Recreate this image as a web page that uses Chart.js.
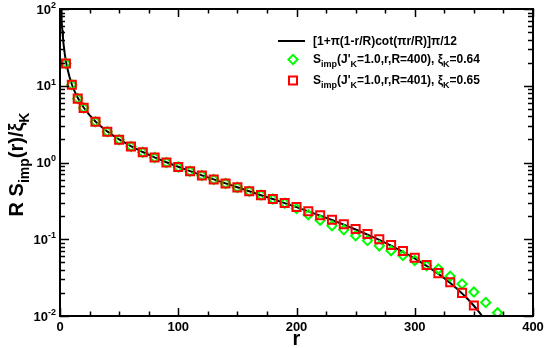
<!DOCTYPE html>
<html>
<head>
<meta charset="utf-8">
<script src="https://cdn.jsdelivr.net/npm/chart.js@4.4.1/dist/chart.umd.min.js"></script>
<style>
  html, body { margin: 0; padding: 0; background: #fff; }
  #wrap { width: 545px; height: 348px; position: relative; }
</style>
</head>
<body>
<div id="wrap"><canvas id="c"></canvas></div>
<script>
/* R S_imp(r)/xi_K versus r, log y axis, curve + two sets of markers */

// curve [1+pi(1-r/R)cot(pi r/R)]pi/12
const curveR = [1, 1.2, 1.5, 2, 2.5, 3, 4, 5, 6, 8, 10, 12, 15, 20, 25, 30, 35, 40, 45, 50,
  60, 70, 80, 90, 100, 110, 120, 130, 140, 150, 160, 170, 180, 190, 200,
  210, 220, 230, 240, 250, 260, 270, 280, 290, 300, 310, 320, 325, 330, 335, 340, 345, 350, 355, 360];
const curveVal = [104.7, 87.3, 69.8, 52.4, 41.9, 34.9, 26.2, 20.9, 17.4, 13.1, 10.45, 8.70, 6.95, 5.20, 4.14, 3.43, 2.92, 2.54, 2.24, 2.00,
  1.634, 1.369, 1.167, 1.008, 0.879, 0.771, 0.680, 0.602, 0.534, 0.475, 0.422, 0.375, 0.334, 0.296, 0.262,
  0.231, 0.203, 0.178, 0.155, 0.134, 0.115, 0.098, 0.0825, 0.0686, 0.0562, 0.0451, 0.0354, 0.0310, 0.0269, 0.0231, 0.0197, 0.0165, 0.0136, 0.0110, 0.0086];

// green diamonds, R=400
const greenR = [5, 10, 15, 20, 30, 40, 50, 60, 70, 80, 90, 100, 110, 120, 130, 140, 150, 160, 170, 180, 190,
  200, 210, 220, 230, 240, 250, 260, 270, 280, 290, 300, 310, 320, 330, 340, 350, 360, 370];
const greenVal = [19.5, 10.3, 6.8, 5.15, 3.40, 2.52, 1.98, 1.62, 1.36, 1.16, 1.00, 0.873, 0.767, 0.678, 0.600, 0.533, 0.474, 0.422, 0.376, 0.334, 0.295,
  0.252, 0.209, 0.177, 0.150, 0.133, 0.111, 0.096, 0.082, 0.071, 0.0615, 0.053, 0.0452, 0.041, 0.033, 0.0262, 0.0205, 0.0150, 0.0110];

// red squares, R=401
const redR = [5, 10, 15, 20, 30, 40, 50, 60, 70, 80, 90, 100, 110, 120, 130, 140, 150, 160, 170, 180, 190,
  200, 210, 220, 230, 240, 250, 260, 270, 280, 290, 300, 310, 320, 330, 340, 350];
const redVal = [19.5, 10.3, 6.8, 5.15, 3.40, 2.52, 1.98, 1.62, 1.36, 1.16, 1.00, 0.873, 0.767, 0.678, 0.600, 0.533, 0.474, 0.422, 0.376, 0.334, 0.297,
  0.263, 0.232, 0.205, 0.180, 0.157, 0.136, 0.117, 0.100, 0.0843, 0.0702, 0.0575, 0.0462, 0.0362, 0.0275, 0.0200, 0.0137];

const xTickLabels = ['0', '100', '200', '300', '400'];
const xMajor = [0, 100, 200, 300, 400];
const yMajor = [0.01, 0.1, 1, 10, 100];
const yExponents = ['-2', '-1', '0', '1', '2'];

const FONT = '"Liberation Sans", Arial, Helvetica, sans-serif';
const GREEN = '#00ff00';
const RED = '#ff0000';

function pts(xs, ys) {
  return xs.map((x, i) => ({ x, y: ys[i] }));
}

// draws text pieces with sub/superscripts, returns width
function drawRich(ctx, parts, x, y, size, dryRun) {
  let cx = x;
  parts.forEach(([t, k]) => {
    const s = k ? Math.round(size * 0.72) : size;
    ctx.font = 'bold ' + s + 'px ' + FONT;
    const dy = k === 'sub' ? size * 0.3 : k === 'sup' ? -size * 0.45 : 0;
    if (!dryRun) ctx.fillText(t, cx, y + dy);
    cx += ctx.measureText(t).width;
  });
  return cx - x;
}

const framePlugin = {
  id: 'frame',
  afterDraw(chart) {
    const { ctx, chartArea: a, scales } = chart;
    const xs = scales.x, ys = scales.y;
    ctx.save();
    ctx.strokeStyle = '#000';
    ctx.fillStyle = '#000';
    ctx.lineWidth = 2;
    ctx.strokeRect(a.left, a.top, a.right - a.left, a.bottom - a.top);

    // inward ticks on all four sides
    ctx.lineWidth = 1.5;
    ctx.beginPath();
    for (let v = 0; v <= 400; v += 25) {
      const px = Math.round(xs.getPixelForValue(v)) + 0.5;
      const len = v % 100 === 0 ? 8 : 4.5;
      ctx.moveTo(px, a.bottom); ctx.lineTo(px, a.bottom - len);
      ctx.moveTo(px, a.top); ctx.lineTo(px, a.top + len);
    }
    yMajor.forEach((d, i) => {
      const py = Math.round(ys.getPixelForValue(d)) + 0.5;
      ctx.moveTo(a.left, py); ctx.lineTo(a.left + 9, py);
      ctx.moveTo(a.right, py); ctx.lineTo(a.right - 9, py);
      if (i === yMajor.length - 1) return;
      for (let m = 2; m <= 9; m++) {
        const q = Math.round(ys.getPixelForValue(d * m)) + 0.5;
        ctx.moveTo(a.left, q); ctx.lineTo(a.left + 5, q);
        ctx.moveTo(a.right, q); ctx.lineTo(a.right - 5, q);
      }
    });
    ctx.stroke();

    // x tick labels
    ctx.font = 'bold 13px ' + FONT;
    ctx.textAlign = 'center';
    ctx.textBaseline = 'middle';
    xMajor.forEach((v, i) => {
      ctx.fillText(xTickLabels[i], xs.getPixelForValue(v), 327);
    });

    // y tick labels 10^n
    ctx.textAlign = 'left';
    ctx.textBaseline = 'alphabetic';
    yMajor.forEach((d, i) => {
      const parts = [['10', ''], [yExponents[i], 'sup']];
      const w = drawRich(ctx, parts, 0, 0, 13, true);
      drawRich(ctx, parts, 56 - w, ys.getPixelForValue(d) + 4.7, 13);
    });

    // axis titles
    ctx.font = 'bold 20px ' + FONT;
    ctx.textAlign = 'center';
    ctx.fillText('r', (a.left + a.right) / 2, 345);

    ctx.textAlign = 'left';
    const yTitle = [['R S', ''], ['imp', 'sub'], ['(r)/ξ', ''], ['K', 'sub']];
    const tw = drawRich(ctx, yTitle, 0, 0, 20, true);
    ctx.save();
    ctx.translate(23, (a.top + a.bottom) / 2 + 2);
    ctx.rotate(-Math.PI / 2);
    drawRich(ctx, yTitle, -tw / 2, 0, 20);
    ctx.restore();

    // legend
    ctx.lineWidth = 2;
    ctx.beginPath();
    ctx.moveTo(278, 41); ctx.lineTo(305, 41);
    ctx.stroke();
    drawRich(ctx, [['[1+π(1-r/R)cot(πr/R)]π/12', '']], 313, 45, 12);

    ctx.strokeStyle = GREEN;
    ctx.beginPath();
    ctx.moveTo(293, 59.5 - 4.6); ctx.lineTo(293 + 4.6, 59.5);
    ctx.lineTo(293, 59.5 + 4.6); ctx.lineTo(293 - 4.6, 59.5);
    ctx.closePath();
    ctx.stroke();
    drawRich(ctx, [['S', ''], ['imp', 'sub'], ['(J\'', ''], ['K', 'sub'], ['=1.0,r,R=400), ξ', ''], ['K', 'sub'], ['=0.64', '']], 313, 63, 12);

    ctx.strokeStyle = RED;
    ctx.strokeRect(293 - 4, 80.5 - 4, 8, 8);
    drawRich(ctx, [['S', ''], ['imp', 'sub'], ['(J\'', ''], ['K', 'sub'], ['=1.0,r,R=401), ξ', ''], ['K', 'sub'], ['=0.65', '']], 313, 84, 12);
    ctx.restore();
  }
};

new Chart(document.getElementById('c'), {
  type: 'scatter',
  data: {
    datasets: [
      {
        label: 'curve',
        data: pts(curveR, curveVal),
        showLine: true,
        borderColor: '#000',
        borderWidth: 2,
        pointRadius: 0,
        tension: 0,
        order: 3,
      },
      {
        label: 'R=400',
        data: pts(greenR, greenVal),
        pointStyle: 'rectRot',
        pointRadius: 4.6,
        pointBorderWidth: 2,
        borderColor: GREEN,
        backgroundColor: 'rgba(0,0,0,0)',
        order: 2,
      },
      {
        label: 'R=401',
        data: pts(redR, redVal),
        pointStyle: 'rect',
        pointRadius: 5.7,
        pointBorderWidth: 2,
        borderColor: RED,
        backgroundColor: 'rgba(0,0,0,0)',
        order: 1,
      },
    ],
  },
  options: {
    responsive: true,
    maintainAspectRatio: false,
    animation: false,
    events: [],
    layout: { padding: { top: 9, right: 12, left: 0, bottom: 0 } },
    plugins: { legend: { display: false }, tooltip: { enabled: false } },
    scales: {
      x: {
        type: 'linear', min: 0, max: 400,
        grid: { display: false }, border: { display: false }, ticks: { display: false },
        afterFit(s) { s.height = 32; },
      },
      y: {
        type: 'logarithmic', min: 0.01, max: 100,
        grid: { display: false }, border: { display: false }, ticks: { display: false },
        afterFit(s) { s.width = 60; },
      },
    },
  },
  plugins: [framePlugin],
});
</script>
</body>
</html>
